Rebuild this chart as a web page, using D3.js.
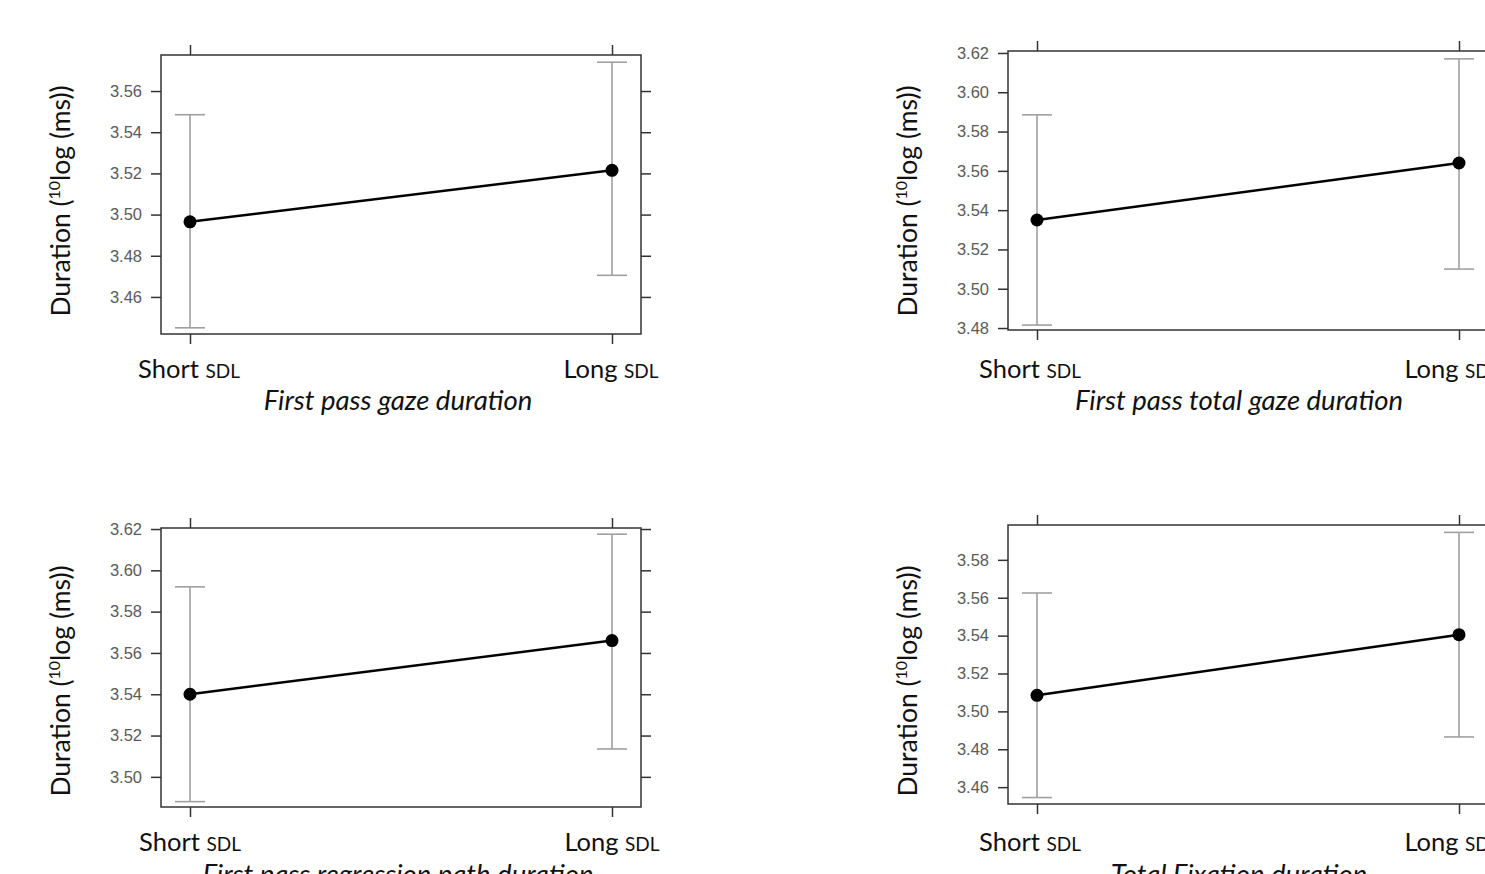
<!DOCTYPE html>
<html>
<head>
<meta charset="utf-8">
<script src="https://cdn.jsdelivr.net/npm/d3@7"></script>
<style>
  body { margin: 0; background: #fff; }
  svg { display: block; }
  .tick text { font-family: "Liberation Sans", Arial, sans-serif; }
</style>
</head>
<body>
<div id="chart"></div>
<script>
// conditions on the x axis
const conditions = ['Short', 'Long'];

// panel captions
const captions = [
  'First pass gaze duration',
  'First pass total gaze duration',
  'First pass regression path duration',
  'Total Fixation duration'
];

// means per panel (Short, Long)
const means = [
  [3.4965, 3.5215],
  [3.535, 3.564],
  [3.540, 3.566],
  [3.5085, 3.5405]
];

// lower / upper ends of the error bars per panel (Short, Long)
const lower = [
  [3.445, 3.4705],
  [3.4815, 3.510],
  [3.488, 3.5135],
  [3.4545, 3.4865]
];
const upper = [
  [3.5485, 3.574],
  [3.5885, 3.617],
  [3.592, 3.6175],
  [3.5625, 3.5945]
];

// y domains and tick labels
const yDomains = [
  [3.442, 3.5775],
  [3.479, 3.621],
  [3.4854, 3.6205],
  [3.4511, 3.5984]
];
const yTicks = [
  [3.46, 3.48, 3.50, 3.52, 3.54, 3.56],
  [3.48, 3.50, 3.52, 3.54, 3.56, 3.58, 3.60, 3.62],
  [3.50, 3.52, 3.54, 3.56, 3.58, 3.60, 3.62],
  [3.46, 3.48, 3.50, 3.52, 3.54, 3.56, 3.58]
];

// layout
const W = 1485, H = 874;
const boxW = 480, boxH = 279;
const panelLeft = [161, 1008, 161, 1008];
const panelTop = [55, 51, 528, 525];
const titleCenterY = [201, 201, 681, 681];
const labelY = [378, 378, 851, 851];
const labelShift = [-1, -7, 0, -7];
const captionY = [410, 410, 884, 884];
const captionShift = [-3, -9, -3, -9];
const font = 'Lato, "Open Sans", sans-serif';

const svg = d3.select('#chart').append('svg')
  .attr('width', W)
  .attr('height', H);

captions.forEach((caption, i) => {
  const g = svg.append('g')
    .attr('class', 'panel')
    .attr('transform', `translate(${panelLeft[i]},${panelTop[i]})`);

  const x = d3.scalePoint().domain(conditions).range([29, 451]);
  const y = d3.scaleLinear().domain(yDomains[i]).range([boxH, 0]);

  // axes: labelled on the left, bare ticks elsewhere
  const left = g.append('g')
    .call(d3.axisLeft(y).tickValues(yTicks[i]).tickSize(10).tickPadding(9)
      .tickFormat(d3.format('.2f')));
  left.selectAll('text').attr('font-size', 16.5).attr('fill', '#5a5a5a');

  const right = g.append('g')
    .attr('transform', `translate(${boxW},0)`)
    .call(d3.axisRight(y).tickValues(yTicks[i]).tickSize(10).tickFormat(''));

  const top = g.append('g')
    .call(d3.axisTop(x).tickSize(10).tickFormat(''));

  const bottom = g.append('g')
    .attr('transform', `translate(0,${boxH})`)
    .call(d3.axisBottom(x).tickSize(10).tickFormat(''));

  [left, right, top, bottom].forEach((a) => {
    a.select('.domain').remove();
    a.selectAll('line').attr('stroke', '#333').attr('stroke-width', 1.5);
  });

  g.append('rect')
    .attr('x', 0).attr('y', 0)
    .attr('width', boxW).attr('height', boxH)
    .attr('fill', 'none')
    .attr('stroke', '#333')
    .attr('stroke-width', 1.5);

  // error bars
  const eb = g.append('g').attr('class', 'errbars')
    .attr('stroke', '#a0a0a0').attr('stroke-width', 1.6).attr('fill', 'none');
  conditions.forEach((c, j) => {
    const cx = x(c);
    eb.append('line')
      .attr('x1', cx).attr('x2', cx)
      .attr('y1', y(lower[i][j])).attr('y2', y(upper[i][j]));
    eb.append('line')
      .attr('x1', cx - 15).attr('x2', cx + 15)
      .attr('y1', y(lower[i][j])).attr('y2', y(lower[i][j]));
    eb.append('line')
      .attr('x1', cx - 15).attr('x2', cx + 15)
      .attr('y1', y(upper[i][j])).attr('y2', y(upper[i][j]));
  });

  // mean line + points
  const line = d3.line()
    .x((d, j) => x(conditions[j]))
    .y((d) => y(d));
  g.append('path')
    .datum(means[i])
    .attr('d', line)
    .attr('fill', 'none')
    .attr('stroke', '#000')
    .attr('stroke-width', 2.5);

  g.selectAll('circle.mean')
    .data(means[i])
    .enter().append('circle')
    .attr('class', 'mean')
    .attr('cx', (d, j) => x(conditions[j]))
    .attr('cy', (d) => y(d))
    .attr('r', 6.5)
    .attr('fill', '#000');

  // condition labels
  conditions.forEach((c) => {
    const t = svg.append('text')
      .attr('x', panelLeft[i] + x(c) + labelShift[i])
      .attr('y', labelY[i])
      .attr('text-anchor', 'middle')
      .attr('font-family', font)
      .attr('font-size', 25.5)
      .attr('fill', '#111');
    t.append('tspan').text(c + ' ');
    t.append('tspan').attr('font-size', 19).text('SDL');
  });

  // caption
  svg.append('text')
    .attr('x', panelLeft[i] + boxW / 2 + captionShift[i])
    .attr('y', captionY[i])
    .attr('text-anchor', 'middle')
    .attr('font-family', font)
    .attr('font-style', 'italic')
    .attr('font-size', 27.5)
    .attr('fill', '#111')
    .text(caption);

  // y title
  const yt = svg.append('text')
    .attr('transform', `translate(${panelLeft[i] - 91},${titleCenterY[i]}) rotate(-90)`)
    .attr('text-anchor', 'middle')
    .attr('font-family', font)
    .attr('font-size', 26.5)
    .attr('fill', '#111');
  yt.append('tspan').text('Duration (');
  yt.append('tspan').attr('font-size', 16).attr('dy', -10).text('10');
  yt.append('tspan').attr('dy', 10).text('log (ms))');
});
</script>
</body>
</html>
